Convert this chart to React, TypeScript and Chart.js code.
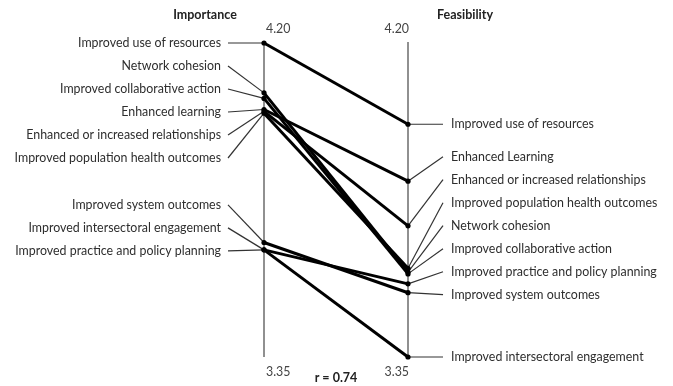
import React, { useEffect, useRef } from "react";
import { Chart, registerables } from "chart.js";

Chart.register(...registerables);

// ---------- data ----------
const ITEMS = [
  "Improved use of resources",
  "Network cohesion",
  "Improved collaborative action",
  "Enhanced learning",
  "Enhanced or increased relationships",
  "Improved population health outcomes",
  "Improved system outcomes",
  "Improved intersectoral engagement",
  "Improved practice and policy planning",
];
const RIGHT_NAMES = [
  "Improved use of resources",
  "Network cohesion",
  "Improved collaborative action",
  "Enhanced Learning",
  "Enhanced or increased relationships",
  "Improved population health outcomes",
  "Improved system outcomes",
  "Improved intersectoral engagement",
  "Improved practice and policy planning",
];
const IMPORTANCE = [4.2, 4.065, 4.05, 4.02, 4.015, 4.01, 3.66, 3.64, 3.64];
const FEASIBILITY = [3.98, 3.58, 3.575, 3.826, 3.705, 3.59, 3.524, 3.35, 3.548];
const AXIS_TITLES = ["Importance", "Feasibility"];
const Y_MIN = 3.35;
const Y_MAX = 4.2;
const TICK_LABELS = ["4.20", "3.35"];
const CORRELATION = "r = 0.74";

// ---------- layout (label stacking) ----------
const LEFT_GROUPS = [
  { items: [0, 1, 2, 3, 4, 5], anchor: "first", shift: 0 },
  { items: [6, 7, 8], anchor: "last", shift: 1 },
];
const RIGHT_GROUPS = [
  { items: [0], anchor: "first", shift: 0 },
  { items: [3, 4, 5, 1, 2, 8, 6], anchor: "last", shift: 2 },
  { items: [7], anchor: "first", shift: 0 },
];
const LABEL_STEP = 23;
const FONT = "Lato, 'Open Sans', sans-serif";
const TEXT = "#2e2e2e";

function stack(groups: any[], py: number[]) {
  const out: number[] = [];
  groups.forEach((g) => {
    const n = g.items.length;
    const start =
      (g.anchor === "first" ? py[g.items[0]] : py[g.items[n - 1]] - (n - 1) * LABEL_STEP) + g.shift;
    g.items.forEach((idx: number, k: number) => {
      out[idx] = start + k * LABEL_STEP;
    });
  });
  return out;
}

const slopePlugin = {
  id: "slope",
  beforeDatasetsDraw(chart: any) {
    const { ctx, scales } = chart;
    const x = scales.x, y = scales.y;
    const xl = x.getPixelForValue(0), xr = x.getPixelForValue(1);
    const top = y.getPixelForValue(Y_MAX), bot = y.getPixelForValue(Y_MIN);
    ctx.save();
    ctx.strokeStyle = "#6b6b6b";
    ctx.lineWidth = 1.5;
    [xl, xr].forEach((px) => {
      ctx.beginPath();
      ctx.moveTo(px, top - 1);
      ctx.lineTo(px, bot);
      ctx.stroke();
    });
    // leaders
    const pl = IMPORTANCE.map((v) => y.getPixelForValue(v));
    const pr = FEASIBILITY.map((v) => y.getPixelForValue(v));
    const ll = stack(LEFT_GROUPS, pl);
    const lr = stack(RIGHT_GROUPS, pr);
    ctx.strokeStyle = "#333";
    ctx.lineWidth = 1.2;
    ITEMS.forEach((_, i) => {
      ctx.beginPath();
      ctx.moveTo(xl - 36, ll[i]);
      ctx.lineTo(xl, pl[i]);
      ctx.stroke();
      ctx.beginPath();
      ctx.moveTo(xr, pr[i]);
      ctx.lineTo(xr + 35, lr[i]);
      ctx.stroke();
    });
    ctx.restore();
  },
  afterDatasetsDraw(chart: any) {
    const { ctx, scales } = chart;
    const x = scales.x, y = scales.y;
    const xl = x.getPixelForValue(0), xr = x.getPixelForValue(1);
    const top = y.getPixelForValue(Y_MAX), bot = y.getPixelForValue(Y_MIN);
    const pl = IMPORTANCE.map((v) => y.getPixelForValue(v));
    const pr = FEASIBILITY.map((v) => y.getPixelForValue(v));
    const ll = stack(LEFT_GROUPS, pl);
    const lr = stack(RIGHT_GROUPS, pr);
    ctx.save();
    ctx.fillStyle = TEXT;
    ctx.textBaseline = "middle";
    ctx.font = `12.4px ${FONT}`;
    ctx.textAlign = "right";
    ITEMS.forEach((t, i) => ctx.fillText(t, xl - 43, ll[i]));
    ctx.textAlign = "left";
    RIGHT_NAMES.forEach((t, i) => ctx.fillText(t, xr + 43, lr[i]));
    // ticks
    ctx.fillStyle = "#444";
    ctx.textAlign = "left";
    ctx.fillText(TICK_LABELS[0], xl + 2, top - 14);
    ctx.fillText(TICK_LABELS[1], xl + 2, bot + 15);
    ctx.textAlign = "right";
    ctx.fillText(TICK_LABELS[0], xr + 1, top - 14);
    ctx.fillText(TICK_LABELS[1], xr + 1, bot + 15);
    // titles
    ctx.font = `bold 12.5px ${FONT}`;
    ctx.textAlign = "center";
    ctx.fillStyle = "#222";
    ctx.fillText(AXIS_TITLES[0], xl - 59, top - 28);
    ctx.fillText(AXIS_TITLES[1], xr + 57, top - 28);
    ctx.fillText(CORRELATION, (xl + xr) / 2, bot + 21);
    ctx.restore();
  },
};

export default function App() {
  const ref = useRef<HTMLCanvasElement>(null);
  useEffect(() => {
    if (!ref.current) return;
    const datasets = ITEMS.map((name, i) => ({
      label: name,
      data: [
        { x: 0, y: IMPORTANCE[i] },
        { x: 1, y: FEASIBILITY[i] },
      ],
      borderColor: "#000",
      backgroundColor: "#000",
      borderWidth: 3,
      pointRadius: 2.6,
      pointBackgroundColor: "#000",
      pointBorderWidth: 0,
      clip: false as any,
    }));
    const chart = new Chart(ref.current, {
      type: "line",
      data: { datasets },
      options: {
        animation: false,
        responsive: false,
        layout: { padding: { left: 264, right: 265, top: 43, bottom: 29 } },
        scales: {
          x: { type: "linear", min: 0, max: 1, display: false },
          y: { type: "linear", min: Y_MIN, max: Y_MAX, display: false },
        },
        plugins: { legend: { display: false }, tooltip: { enabled: false } },
        events: [],
      },
      plugins: [slopePlugin],
    });
    return () => chart.destroy();
  }, []);
  return (
    <div style={{ position: "fixed", left: 0, top: 0, width: 673, height: 386, background: "#fff" }}>
      <canvas ref={ref} width={673} height={386} style={{ width: 673, height: 386 }} />
    </div>
  );
}
